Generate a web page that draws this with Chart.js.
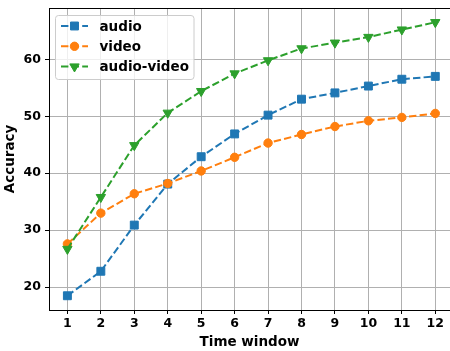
<!DOCTYPE html>
<html><head><meta charset="utf-8">
<script src="https://cdn.jsdelivr.net/npm/chart.js@4/dist/chart.umd.min.js"></script>
<style>html,body{margin:0;padding:0;background:#fff}</style>
</head><body>
<canvas id="c" width="450" height="351"></canvas>
<script>
const categories = [1, 2, 3, 4, 5, 6, 7, 8, 9, 10, 11, 12];
const audio = [18.5, 22.8, 30.9, 38.1, 42.9, 46.9, 50.2, 53.0, 54.1, 55.3, 56.5, 57.0];
const video = [27.6, 33.0, 36.4, 38.2, 40.4, 42.8, 45.3, 46.8, 48.2, 49.2, 49.8, 50.5];
const audioVideo = [26.7, 35.8, 44.9, 50.6, 54.4, 57.5, 59.8, 61.9, 62.9, 63.9, 65.2, 66.5];
const yTicks = [20, 30, 40, 50, 60];
const xTicks = categories;
const seriesNames = ['audio', 'video', 'audio-video'];

const FONT = '"DejaVu Sans", sans-serif';
const toXY = arr => arr.map((v, i) => ({x: categories[i], y: v}));

function ds(label, data, color, style, radius, rot, order) {
  return {
    label, data: toXY(data), borderColor: color, backgroundColor: color,
    borderWidth: 2, borderDash: [7.4, 3.2], pointStyle: style, pointRadius: radius,
    pointHoverRadius: radius, pointRotation: rot, pointBorderWidth: 1,
    pointBorderColor: color, pointBackgroundColor: color, fill: false,
    tension: 0, order, clip: false
  };
}

const legendPlugin = {
  id: 'mplLegend',
  afterDraw(chart) {
    const ctx = chart.ctx;
    const x0 = 55.5, y0 = 15.5, w = 138.5, h = 64;
    ctx.save();
    ctx.beginPath();
    if (ctx.roundRect) ctx.roundRect(x0, y0, w, h, 3); else ctx.rect(x0, y0, w, h);
    ctx.fillStyle = 'rgba(255,255,255,0.8)';
    ctx.fill();
    ctx.strokeStyle = '#cccccc';
    ctx.lineWidth = 1;
    ctx.stroke();
    chart.data.datasets.forEach((d, i) => {
      const cy = 26 + i * 20.3;
      ctx.save();
      ctx.strokeStyle = d.borderColor;
      ctx.lineWidth = 2;
      ctx.setLineDash([7.4, 3.2]);
      ctx.beginPath();
      ctx.moveTo(61, cy);
      ctx.lineTo(88, cy);
      ctx.stroke();
      ctx.restore();
      ctx.fillStyle = d.backgroundColor;
      ctx.strokeStyle = d.borderColor;
      ctx.lineWidth = 1;
      Chart.helpers.drawPoint(ctx, {pointStyle: d.pointStyle, rotation: d.pointRotation, radius: d.pointRadius, borderWidth: 1}, 74.5, cy);
      ctx.fillStyle = '#000';
      ctx.font = 'bold 13.5px ' + FONT;
      ctx.textBaseline = 'middle';
      ctx.textAlign = 'left';
      ctx.fillText(d.label, 99.5, cy + 1);
    });
    ctx.restore();
  }
};

const topSpine = {
  id: 'topSpine',
  afterDraw(chart) {
    const a = chart.chartArea, ctx = chart.ctx;
    ctx.save();
    ctx.strokeStyle = '#000';
    ctx.lineWidth = 1;
    ctx.beginPath();
    ctx.moveTo(a.left, a.top + 0.5);
    ctx.lineTo(a.right, a.top + 0.5);
    ctx.stroke();
    ctx.restore();
  }
};

new Chart(document.getElementById('c'), {
  type: 'line',
  data: {
    datasets: [
      ds(seriesNames[0], audio, '#1f77b4', 'rect', 5.6, 0, 3),
      ds(seriesNames[1], video, '#ff7f0e', 'circle', 4.2, 0, 2),
      ds(seriesNames[2], audioVideo, '#2ca02c', 'triangle', 5.4, 180, 1)
    ]
  },
  options: {
    responsive: false,
    devicePixelRatio: 1,
    animation: false,
    layout: {autoPadding: false, padding: {top: 8, right: 0, left: 0, bottom: 0}},
    plugins: {legend: {display: false}, tooltip: {enabled: false}},
    scales: {
      x: {
        type: 'linear', min: 0.45, max: 12.44,
        afterBuildTicks: s => { s.ticks = xTicks.map(v => ({value: v})); },
        afterFit: s => { s.height = 41; s.paddingLeft = 0; s.paddingRight = 0; },
        grid: {color: '#b0b0b0', lineWidth: 1, tickLength: 4, tickColor: '#000'},
        border: {display: true, color: '#000', width: 1},
        ticks: {font: {family: FONT, size: 12.5, weight: 'bold'}, color: '#000', padding: 2, maxRotation: 0, autoSkip: false},
        title: {display: true, text: 'Time window', font: {family: FONT, size: 13.5, weight: 'bold'}, color: '#000', padding: {top: 0, bottom: 0}}
      },
      y: {
        type: 'linear', min: 16.0, max: 69.0,
        afterBuildTicks: s => { s.ticks = yTicks.map(v => ({value: v})); },
        afterFit: s => { s.width = 49; s.paddingTop = 0; s.paddingBottom = 0; },
        grid: {color: '#b0b0b0', lineWidth: 1, tickLength: 4, tickColor: '#000'},
        border: {display: true, color: '#000', width: 1},
        ticks: {font: {family: FONT, size: 12.5, weight: 'bold'}, color: '#000', padding: 4},
        title: {display: true, text: 'Accuracy', font: {family: FONT, size: 13.5, weight: 'bold'}, color: '#000', padding: {top: 2, bottom: 0}}
      }
    }
  },
  plugins: [legendPlugin, topSpine]
});
</script>
</body></html>
